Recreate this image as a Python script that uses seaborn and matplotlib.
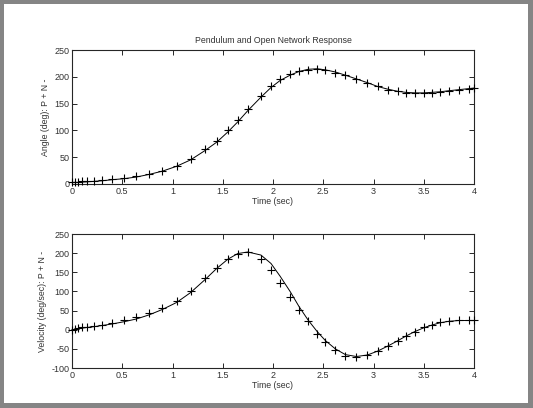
import seaborn as sns
import matplotlib.pyplot as plt
import pandas as pd
from matplotlib.patches import Rectangle

# time samples (sec)
t = [0.0, 0.03, 0.06, 0.1, 0.15, 0.22, 0.3, 0.4, 0.52, 0.64, 0.77, 0.9, 1.04,
     1.18, 1.32, 1.44, 1.55, 1.65, 1.75, 1.88, 1.98, 2.07, 2.17, 2.26, 2.35,
     2.44, 2.52, 2.62, 2.72, 2.83, 2.94, 3.04, 3.14, 3.24, 3.32, 3.41, 3.5,
     3.58, 3.66, 3.75, 3.85, 3.95, 4.0]

# angle (deg): pendulum = line, network = plus markers
angle_p = [3, 3, 3, 3.5, 4, 5, 6, 8, 10, 13, 18, 24, 33, 45, 62, 78, 97, 116,
           137, 162, 180, 193, 203, 210, 214, 215, 213, 209, 203, 196, 189,
           182, 177, 173, 171, 170, 170, 171, 172, 174, 176, 178, 179]
angle_n = [4, 4, 4, 5, 5, 6, 7, 9, 11, 14, 18, 24, 34, 47, 65, 80, 100, 120,
           140, 165, 182, 196, 205, 210, 213, 214, 212, 208, 203, 196, 188,
           182, 176, 173, 170, 170, 170, 170, 171, 173, 176, 178, 179]

# velocity (deg/sec)
vel_p = [0, 1, 2, 4, 6, 8, 11, 15, 21, 28, 39, 53, 71, 97, 130, 160, 184, 199,
         203, 195, 173, 140, 100, 60, 25, -5, -28, -50, -65, -70, -66, -56,
         -43, -29, -17, -5, 5, 12, 18, 22, 24, 24, 24]
vel_n = [0, 2, 4, 6, 7, 9, 12, 17, 25, 32, 43, 58, 75, 102, 136, 162, 185, 199,
         202, 186, 156, 122, 86, 51, 22, -10, -32, -54, -68, -70, -65, -56,
         -43, -30, -16, -5, 6, 13, 19, 24, 25, 25, 25]

x_ticks = [0, 0.5, 1, 1.5, 2, 2.5, 3, 3.5, 4]
x_labels = ['0', '0.5', '1', '1.5', '2', '2.5', '3', '3.5', '4']

df = pd.DataFrame({'t': t, 'angle_p': angle_p, 'angle_n': angle_n,
                   'vel_p': vel_p, 'vel_n': vel_n})

sns.set_style('ticks')
plt.rcParams['font.family'] = ['Liberation Sans', 'DejaVu Sans']
plt.rcParams['axes.unicode_minus'] = False
txt = '#333333'

fig = plt.figure(figsize=(5.33, 4.08), dpi=100)
ax1 = fig.add_axes([72 / 533, 1 - 184 / 408, 402 / 533, 134 / 408])
ax2 = fig.add_axes([72 / 533, 1 - 368 / 408, 402 / 533, 134 / 408])

panels = [(ax1, 'angle_p', 'angle_n', 'Angle (deg): P + N -', (0, 250), range(0, 251, 50)),
          (ax2, 'vel_p', 'vel_n', 'Velocity (deg/sec): P + N -', (-100, 250), range(-100, 251, 50))]

for ax, pcol, ncol, ylab, ylim, yt in panels:
    sns.lineplot(data=df, x='t', y=pcol, ax=ax, color='black', linewidth=0.7,
                 estimator=None, sort=False)
    sns.scatterplot(data=df, x='t', y=ncol, ax=ax, marker='+', s=30,
                    color='black', linewidth=0.8, clip_on=False, zorder=3)
    ax.set_xlim(0, 4)
    ax.set_ylim(*ylim)
    ax.set_xticks(x_ticks)
    ax.set_xticklabels(x_labels)
    ax.set_yticks(list(yt))
    ax.tick_params(direction='in', top=True, right=True, length=3.5, width=0.7,
                   labelsize=6.5, labelcolor=txt, pad=2)
    for s in ax.spines.values():
        s.set_visible(True)
        s.set_linewidth(0.8)
    ax.set_xlabel('Time (sec)', fontsize=6.3, color=txt, labelpad=1)
    ax.set_ylabel(ylab, fontsize=6.3, color=txt, labelpad=3)

ax1.set_title('Pendulum and Open Network Response', fontsize=6.3, color=txt, pad=5)

# gray frame around figure
gray = '#858585'
for r in [(0, 0, 4 / 533, 1), (0, 1 - 4 / 408, 1, 4 / 408),
          (1 - 5 / 533, 0, 5 / 533, 1), (0, 0, 1, 5 / 408)]:
    fig.patches.append(Rectangle(r[:2], r[2], r[3], transform=fig.transFigure,
                                 facecolor=gray, edgecolor='none'))

fig.savefig('out.png', dpi=100)
